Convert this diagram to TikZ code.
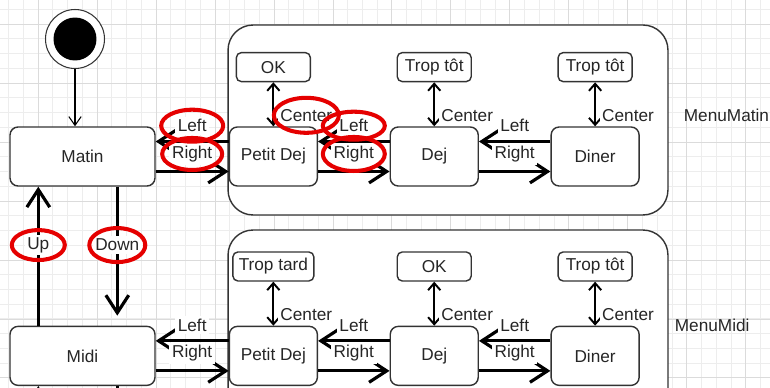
\documentclass[tikz,border=0pt]{standalone}
\usepackage{fontspec}
\setmainfont{Liberation Sans}
\usetikzlibrary{shapes,arrows.meta,positioning}

\begin{document}
\begin{tikzpicture}[
    x=0.02cm, y=-0.02cm,
    font=\fontsize{9.8pt}{11.5pt}\selectfont,
    node distance=1.43cm,
    state/.style={rectangle, draw=black!80, line width=0.8pt, fill=white, rounded corners=0.16cm, minimum width=1.76cm, minimum height=1.18cm, text=black!85},
    choice/.style={rectangle, draw=black!80, line width=0.8pt, fill=white, rounded corners=0.1cm, minimum width=1.48cm, minimum height=0.58cm, inner sep=1pt, text=black!85},
    group/.style={rectangle, draw=black!80, line width=0.8pt, fill=white, rounded corners=0.5cm, minimum width=8.8cm, minimum height=3.8cm},
    trans/.style={line width=1.8pt, -{Straight Barb[length=10pt,width=13pt]}},
    toggle/.style={line width=1.1pt, {Straight Barb[length=4pt,width=7pt]}-{Straight Barb[length=4pt,width=7pt]}},
    lbl/.style={fill=white, inner sep=1.5pt, text=black!85},
    redring/.style={ellipse, draw=red!90!black, line width=2.3pt, inner sep=0pt},
    minorgrid/.style={draw=black!7, line width=0.5pt},
    majorgrid/.style={draw=black!14, line width=0.5pt}
]
\useasboundingbox (0,0) rectangle (770,388);

% Background grid
\begin{scope}[shift={(8.5,9.25)}]
\draw[minorgrid, step=0.295cm] (-1cm,-9cm) grid (16cm,1cm);
\end{scope}
\begin{scope}[shift={(38,24)}]
\draw[majorgrid, step=1.18cm] (-2cm,-10cm) grid (16cm,2cm);
\end{scope}

% Groups
\node[group] (menumatin) at (448,120) {};
\node[group] (menumidi) at (448,325) {};
\node[right=0.18cm of menumatin, yshift=0.1cm, text=black!85] (labmatin) {MenuMatin};
\node[right=0cm of menumidi, text=black!85] (labmidi) {MenuMidi};

% Start
\node[circle, draw=black!80, line width=0.6pt, fill=white, minimum size=1.18cm] (start) at (75,39) {};
\node[circle, fill=black, minimum size=0.86cm] (startdot) at (start.center) {};

% Matin row
\node[state, minimum width=2.9cm] (matin) at (82.5,156.5) {Matin};
\node[state, right=1.46cm of matin] (pdmatin) {Petit Dej};
\node[state, right=of pdmatin] (dejmatin) {Dej};
\node[state, right=of dejmatin] (dinmatin) {Diner};
\node[choice, above=0.88cm of pdmatin] (okmatin) {OK};
\node[choice, above=0.88cm of dejmatin] (totmatin) {Trop tôt};
\node[choice, above=0.88cm of dinmatin] (totdin) {Trop tôt};

% Midi row
\node[state, minimum width=2.9cm, below=2.78cm of matin] (midi) {Midi};
\node[state, right=1.46cm of midi] (pdmidi) {Petit Dej};
\node[state, right=of pdmidi] (dejmidi) {Dej};
\node[state, right=of dejmidi] (dinmidi) {Diner};
\node[choice, minimum width=1.62cm, above=0.88cm of pdmidi] (tardmidi) {Trop tard};
\node[choice, above=0.88cm of dejmidi] (okmidi) {OK};
\node[choice, above=0.88cm of dinmidi] (totmidi) {Trop tôt};

% Arrows
\draw[line width=0.6pt, -{Straight Barb[length=5pt,width=7pt]}] (start) -- (start |- matin.north);

\draw[trans] ([xshift=0.58cm]midi.north west) -- node[lbl, pos=0.58] (up) {Up} ([xshift=0.58cm]matin.south west);
\draw[trans, shorten >=0.2cm] ([xshift=2.16cm]matin.south west) -- node[lbl, pos=0.42] (down) {Down} ([xshift=2.16cm]midi.north west);
\coordinate (below) at ([xshift=0.58cm, yshift=-1cm]midi.south west);
\coordinate (further) at ([xshift=2.16cm, yshift=-1cm]midi.south west);
\draw[trans] (below) -- ([xshift=0.58cm]midi.south west);
\draw[trans] ([xshift=2.16cm]midi.south west) -- (further);

\foreach \row/\home in {matin/matin, midi/midi} {
  \draw[trans] ([yshift=0.3cm]dej\row.west) -- node[lbl, above=3pt] (left2\row) {Left} ([yshift=0.3cm]pd\row.east);
  \draw[trans] ([yshift=-0.3cm]pd\row.east) -- node[lbl, above=3pt] (right2\row) {Right} ([yshift=-0.3cm]dej\row.west);
  \draw[trans] ([yshift=0.3cm]din\row.west) -- node[lbl, above=3pt] (left3\row) {Left} ([yshift=0.3cm]dej\row.east);
  \draw[trans] ([yshift=-0.3cm]dej\row.east) -- node[lbl, above=3pt] (right3\row) {Right} ([yshift=-0.3cm]din\row.west);
  \draw[trans] ([yshift=0.3cm]pd\row.west) -- node[lbl, above=3pt] (left1\row) {Left} ([yshift=0.3cm]\home.east);
  \draw[trans] ([yshift=-0.3cm]\home.east) -- node[lbl, above=3pt] (right1\row) {Right} ([yshift=-0.3cm]pd\row.west);
}

\draw[toggle] (pdmatin) -- node[lbl, right=2pt, pos=0.25] (ctrok) {Center} (okmatin);
\draw[toggle] (dejmatin) -- node[lbl, right=2pt, pos=0.25] (ctrdej) {Center} (totmatin);
\draw[toggle] (dinmatin) -- node[lbl, right=2pt, pos=0.25] (ctrdin) {Center} (totdin);
\draw[toggle] (pdmidi) -- node[lbl, right=2pt, pos=0.25] (ctrtard) {Center} (tardmidi);
\draw[toggle] (dejmidi) -- node[lbl, right=2pt, pos=0.25] (ctrokm) {Center} (okmidi);
\draw[toggle] (dinmidi) -- node[lbl, right=2pt, pos=0.25] (ctrtot) {Center} (totmidi);

% Highlights
\node[redring, minimum width=1.24cm, minimum height=0.64cm] (ringl1) at (left1matin.center) {};
\node[redring, minimum width=1.2cm, minimum height=0.64cm] (ringr1) at (right1matin.center) {};
\node[redring, minimum width=1.3cm, minimum height=0.7cm] (ringc) at (ctrok.center) {};
\node[redring, minimum width=1.24cm, minimum height=0.56cm] (ringl2) at (left2matin.center) {};
\node[redring, minimum width=1.24cm, minimum height=0.68cm] (ringr2) at (right2matin.center) {};
\node[redring, minimum width=1.06cm, minimum height=0.6cm] (ringup) at (up.center) {};
\node[redring, minimum width=1.12cm, minimum height=0.68cm] (ringdown) at (down.center) {};

\end{tikzpicture}
\end{document}
